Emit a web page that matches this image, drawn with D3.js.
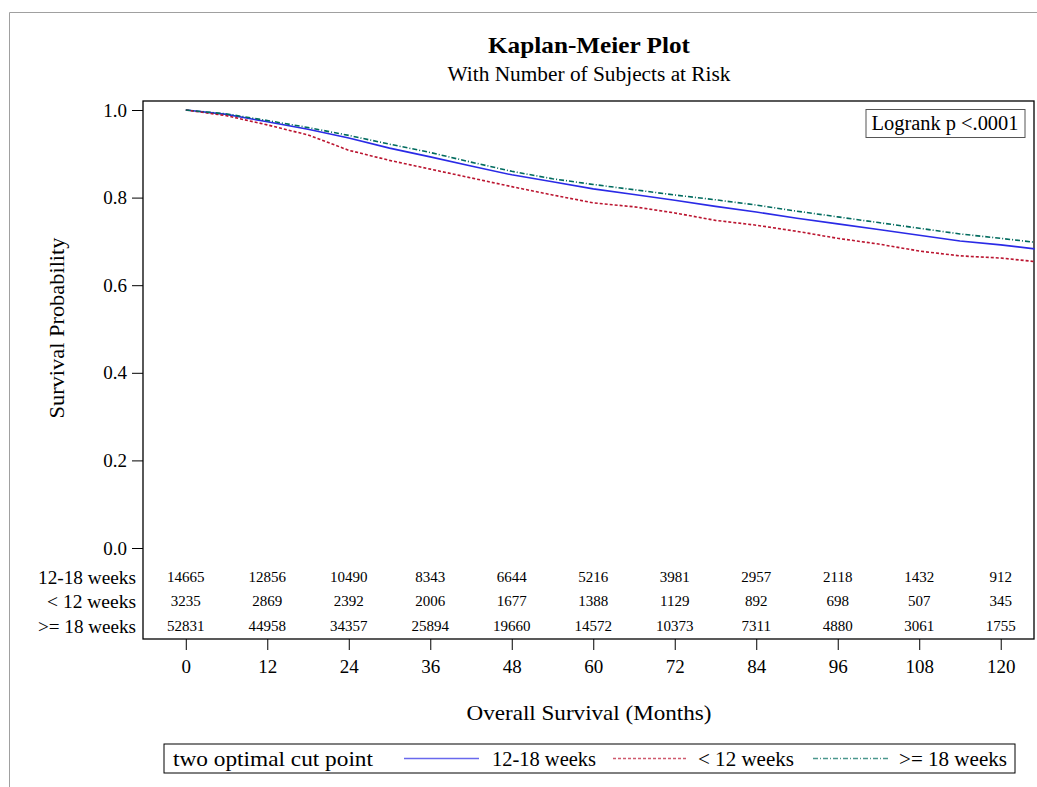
<!DOCTYPE html>
<html><head><meta charset="utf-8">
<script src="https://cdn.jsdelivr.net/npm/d3@7"></script>
<style>
html,body{margin:0;padding:0;background:#fff;}
svg text{font-family:"Liberation Serif","Times New Roman",serif;fill:#000;}
</style></head>
<body>
<svg id="chart" width="1037" height="787"></svg>
<script>
const groups = ["12-18 weeks", "< 12 weeks", ">= 18 weeks"];
const times = [0,6,12,18,24,30,36,42,48,54,60,66,72,78,84,90,96,102,108,114,120,125];
const surv1218 = [1.000,0.990,0.973,0.956,0.936,0.913,0.893,0.872,0.852,0.836,0.820,0.807,0.794,0.780,0.767,0.753,0.740,0.727,0.714,0.701,0.692,0.683];
const survLt12 = [1.000,0.987,0.966,0.943,0.908,0.885,0.865,0.845,0.825,0.806,0.788,0.779,0.765,0.748,0.737,0.723,0.707,0.694,0.678,0.667,0.662,0.654];
const survGe18 = [1.000,0.991,0.976,0.960,0.942,0.922,0.903,0.881,0.860,0.843,0.830,0.818,0.806,0.795,0.783,0.769,0.756,0.743,0.730,0.717,0.707,0.698];
const riskTimes = [0,12,24,36,48,60,72,84,96,108,120];
const risk1218 = [14665,12856,10490,8343,6644,5216,3981,2957,2118,1432,912];
const riskLt12 = [3235,2869,2392,2006,1677,1388,1129,892,698,507,345];
const riskGe18 = [52831,44958,34357,25894,19660,14572,10373,7311,4880,3061,1755];
const yTicks = [0,0.2,0.4,0.6,0.8,1.0];
const pLabel = "Logrank p <.0001";

const series = [
  {name: groups[0], vals: surv1218, risk: risk1218, color: "#2a2ae6", dash: null},
  {name: groups[1], vals: survLt12, risk: riskLt12, color: "#bb1530", dash: "3,2"},
  {name: groups[2], vals: survGe18, risk: riskGe18, color: "#006b5e", dash: "5,2,1,2"}
];

const svg = d3.select("#chart");
const L = 143, R = 1034, T = 101, B = 639;
const x = d3.scaleLinear().domain([-6.3, 124.9]).range([L, R]);
const y = d3.scaleLinear().domain([0, 1]).range([548, 110]);

// outer frame
svg.append("path").attr("d", "M9.5,787 V12.5 H1037").attr("fill","none").attr("stroke","#a0a0a0").attr("stroke-width",1);

// titles
svg.append("text").attr("x",589).attr("y",53).attr("text-anchor","middle")
  .attr("font-size",23).attr("font-weight","bold")
  .attr("textLength",202).attr("lengthAdjust","spacingAndGlyphs").text("Kaplan-Meier Plot");
svg.append("text").attr("x",589).attr("y",81).attr("text-anchor","middle")
  .attr("font-size",20).attr("textLength",283).attr("lengthAdjust","spacingAndGlyphs")
  .text("With Number of Subjects at Risk");

// plot frame
svg.append("rect").attr("x",L).attr("y",T).attr("width",R-L).attr("height",B-T)
  .attr("fill","none").attr("stroke","#000").attr("stroke-width",1.3);

// y axis
const yAxis = d3.axisLeft(y).tickValues(yTicks).tickFormat(d3.format(".1f")).tickSize(11).tickPadding(5);
const gy = svg.append("g").attr("transform",`translate(${L},0)`).call(yAxis);
gy.select(".domain").remove();
gy.selectAll("text").attr("font-size",19).attr("font-family","Liberation Serif");
gy.selectAll("line").attr("stroke","#000");

svg.append("text").attr("transform","translate(64,328) rotate(-90)").attr("text-anchor","middle")
  .attr("font-size",21).attr("textLength",181).attr("lengthAdjust","spacingAndGlyphs")
  .text("Survival Probability");

// x axis
const xAxis = d3.axisBottom(x).tickValues(riskTimes).tickSize(11).tickPadding(10);
const gx = svg.append("g").attr("transform",`translate(0,${B})`).call(xAxis);
gx.select(".domain").remove();
gx.selectAll("text").attr("font-size",19).attr("font-family","Liberation Serif");
gx.selectAll("line").attr("stroke","#000");

svg.append("text").attr("x",589).attr("y",720).attr("text-anchor","middle")
  .attr("font-size",21).attr("textLength",245).attr("lengthAdjust","spacingAndGlyphs")
  .text("Overall Survival (Months)");

// curves
const line = d3.line().x((d,i)=>x(times[i])).y(d=>y(d)).curve(d3.curveLinear);
series.forEach(s=>{
  svg.append("path").datum(s.vals).attr("d",line).attr("fill","none")
    .attr("stroke",s.color).attr("stroke-width",1.6)
    .attr("stroke-dasharray",s.dash);
});

// logrank box
svg.append("rect").attr("x",866).attr("y",109.5).attr("width",159).attr("height",28)
  .attr("fill","#fff").attr("stroke","#555").attr("stroke-width",1);
svg.append("text").attr("x",945).attr("y",130).attr("text-anchor","middle")
  .attr("font-size",20).attr("textLength",147).attr("lengthAdjust","spacingAndGlyphs").text(pLabel);

// at-risk table
const rowY = [577, 601, 626];
const rowW = [98, 89, 98];
series.forEach((s,k)=>{
  svg.append("text").attr("x",136).attr("y",rowY[k]).attr("text-anchor","end")
    .attr("dominant-baseline","central").attr("font-size",19.5)
    .attr("textLength",rowW[k]).attr("lengthAdjust","spacingAndGlyphs").text(s.name);
  svg.selectAll(null).data(s.risk).enter().append("text")
    .attr("x",(d,i)=>x(riskTimes[i])).attr("y",rowY[k])
    .attr("text-anchor","middle").attr("dominant-baseline","central")
    .attr("font-size",15).text(d=>d);
});

// legend
svg.append("rect").attr("x",164).attr("y",744).attr("width",851).attr("height",29)
  .attr("fill","#fff").attr("stroke","#000").attr("stroke-width",1);
svg.append("text").attr("x",173).attr("y",759).attr("dominant-baseline","central")
  .attr("font-size",21).attr("textLength",200).attr("lengthAdjust","spacingAndGlyphs")
  .text("two optimal cut point");
const legPos = [{x1:404,x2:479,tx:492,w:104},{x1:613,x2:688,tx:698,w:96},{x1:813,x2:889,tx:899,w:108}];
series.forEach((s,k)=>{
  const p = legPos[k];
  svg.append("line").attr("x1",p.x1).attr("x2",p.x2).attr("y1",758.5).attr("y2",758.5)
    .attr("stroke",s.color).attr("stroke-opacity",0.7).attr("stroke-width",1.3).attr("stroke-dasharray",s.dash);
  svg.append("text").attr("x",p.tx).attr("y",759).attr("dominant-baseline","central")
    .attr("font-size",20).attr("textLength",p.w).attr("lengthAdjust","spacingAndGlyphs").text(s.name);
});
</script>
</body></html>
